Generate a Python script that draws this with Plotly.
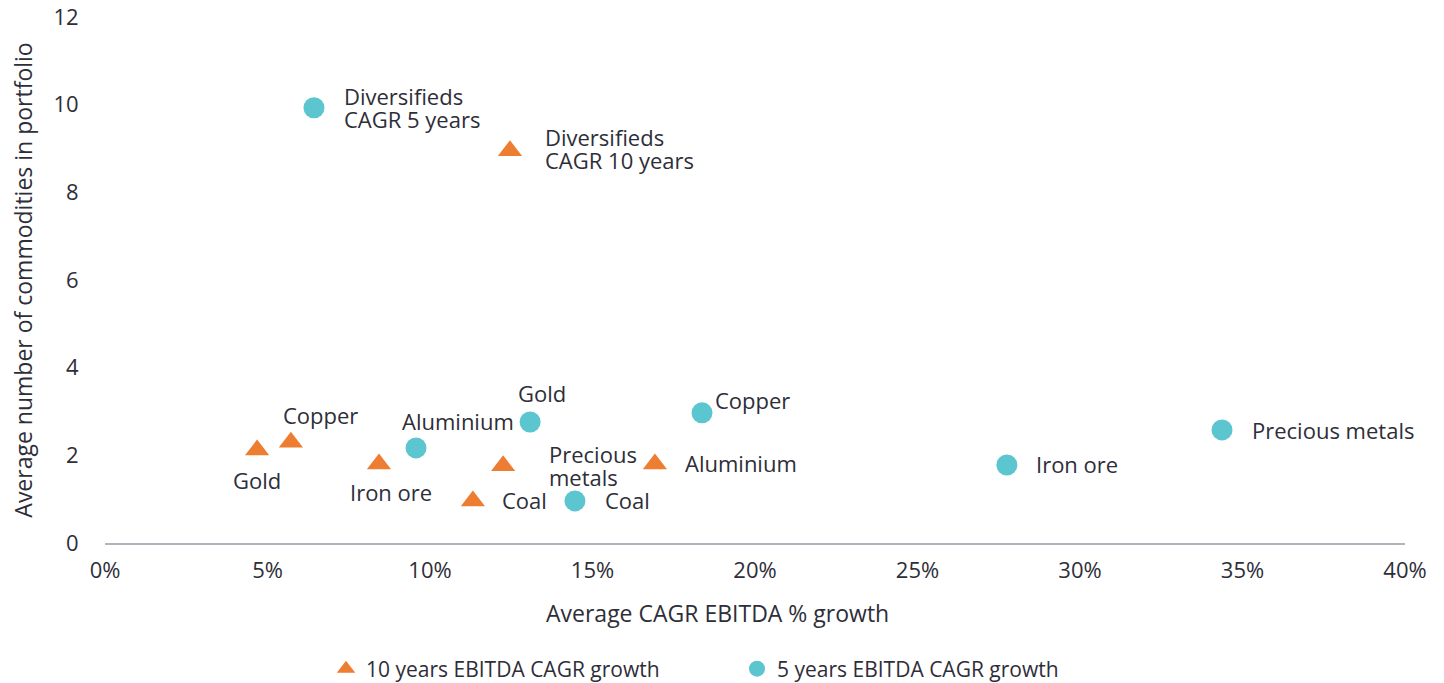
import plotly.graph_objects as go

# ---- data ----
names_10y = ["Gold", "Copper", "Iron ore", "Coal", "Precious<br>metals", "Aluminium", "Diversifieds<br>CAGR 10 years"]
cagr_10y = [4.68, 5.72, 8.43, 11.32, 12.25, 16.92, 12.46]
count_10y = [2.12, 2.30, 1.80, 0.96, 1.76, 1.80, 8.95]

names_5y = ["Diversifieds<br>CAGR 5 years", "Aluminium", "Gold", "Coal", "Copper", "Iron ore", "Precious metals"]
cagr_5y = [6.43, 9.57, 13.08, 14.46, 18.37, 27.75, 34.37]
count_5y = [9.93, 2.17, 2.76, 0.96, 2.97, 1.78, 2.58]

x_ticks = [0, 5, 10, 15, 20, 25, 30, 35, 40]
x_tick_labels = ["0%", "5%", "10%", "15%", "20%", "25%", "30%", "35%", "40%"]
y_ticks = [0, 2, 4, 6, 8, 10, 12]

series_10y_name = "10 years EBITDA CAGR growth"
series_5y_name = "5 years EBITDA CAGR growth"
x_title = "Average CAGR EBITDA % growth"
y_title = "Average number of commodities in portfolio"

# ---- styles ----
ORANGE = "#ED7D31"
TEAL = "#5BC5D0"
TEXT = "#2E2E38"
FONT = "Open Sans"
FS = 22
LINE_H = 23

# label placement (pixel offsets, anchors) per point
pos_10y = [
    (0, -30, "center"), (30, 27, "center"), (12, -28, "center"), (27, 1, "left"),
    (44, 0, "left"), (28, 1, "left"), (33, 2, "left"),
]
pos_5y = [
    (28, 0, "left"), (42, 27, "center"), (12, 29, "center"), (28, 1, "left"),
    (11, 13, "left"), (27, 1, "left"), (28, 0, "left"),
]

fig = go.Figure()
fig.add_trace(go.Scatter(
    x=cagr_10y, y=count_10y, mode="markers", name=series_10y_name,
    marker=dict(symbol="triangle-up", size=21, color=ORANGE),
    cliponaxis=False,
))
fig.add_trace(go.Scatter(
    x=cagr_5y, y=count_5y, mode="markers", name=series_5y_name,
    marker=dict(symbol="circle", size=21, color=TEAL),
    cliponaxis=False,
))

annotations = []
for names, xs, ys, pos in [(names_10y, cagr_10y, count_10y, pos_10y), (names_5y, cagr_5y, count_5y, pos_5y)]:
    for n, x, y, (dx, dy, anc) in zip(names, xs, ys, pos):
        lines = n.split("<br>")
        k = len(lines)
        for i, line in enumerate(lines):
            annotations.append(dict(
                x=x, y=y, xref="x", yref="y", text=line, showarrow=False,
                xanchor=anc, yanchor="middle", align="left",
                xshift=dx, yshift=dy + (k - 1) / 2 * LINE_H - i * LINE_H,
                font=dict(family=FONT, size=FS, color=TEXT),
            ))

# x axis title placed as a paper annotation (centred left of plot centre as in the reference)
annotations.append(dict(
    x=0.4708, y=-0.133, xref="paper", yref="paper", text=x_title, showarrow=False,
    xanchor="center", yanchor="middle",
    font=dict(family=FONT, size=23, color=TEXT),
))

fig.update_layout(
    width=1444, height=683,
    margin=dict(l=105, r=39, t=17, b=140, autoexpand=False),
    paper_bgcolor="white", plot_bgcolor="white",
    font=dict(family=FONT, color=TEXT),
    annotations=annotations,
    showlegend=True,
    legend=dict(
        orientation="h", x=0.170, xanchor="left", y=-0.2395, yanchor="middle",
        font=dict(family=FONT, size=21, color=TEXT),
        itemsizing="trace", entrywidth=366,
    ),
    xaxis=dict(
        range=[0, 40], tickvals=x_ticks, ticktext=x_tick_labels,
        showgrid=False, zeroline=False, automargin=False,
        showline=True, linecolor="#AEB5BD", linewidth=2,
        ticks="outside", ticklen=7, tickcolor="rgba(0,0,0,0)",
        ticklabeloverflow="allow",
        tickfont=dict(family=FONT, size=FS, color=TEXT),
    ),
    yaxis=dict(
        range=[0, 12], tickvals=y_ticks,
        showgrid=False, zeroline=False, showline=False, automargin=False,
        ticks="outside", ticklen=21, tickcolor="rgba(0,0,0,0)",
        tickfont=dict(family=FONT, size=FS, color=TEXT),
        title=dict(text=y_title, font=dict(family=FONT, size=23, color=TEXT), standoff=14),
    ),
)

fig.write_html("out.html", post_script="document.body.style.margin='0';",
               config={"displayModeBar": False})
